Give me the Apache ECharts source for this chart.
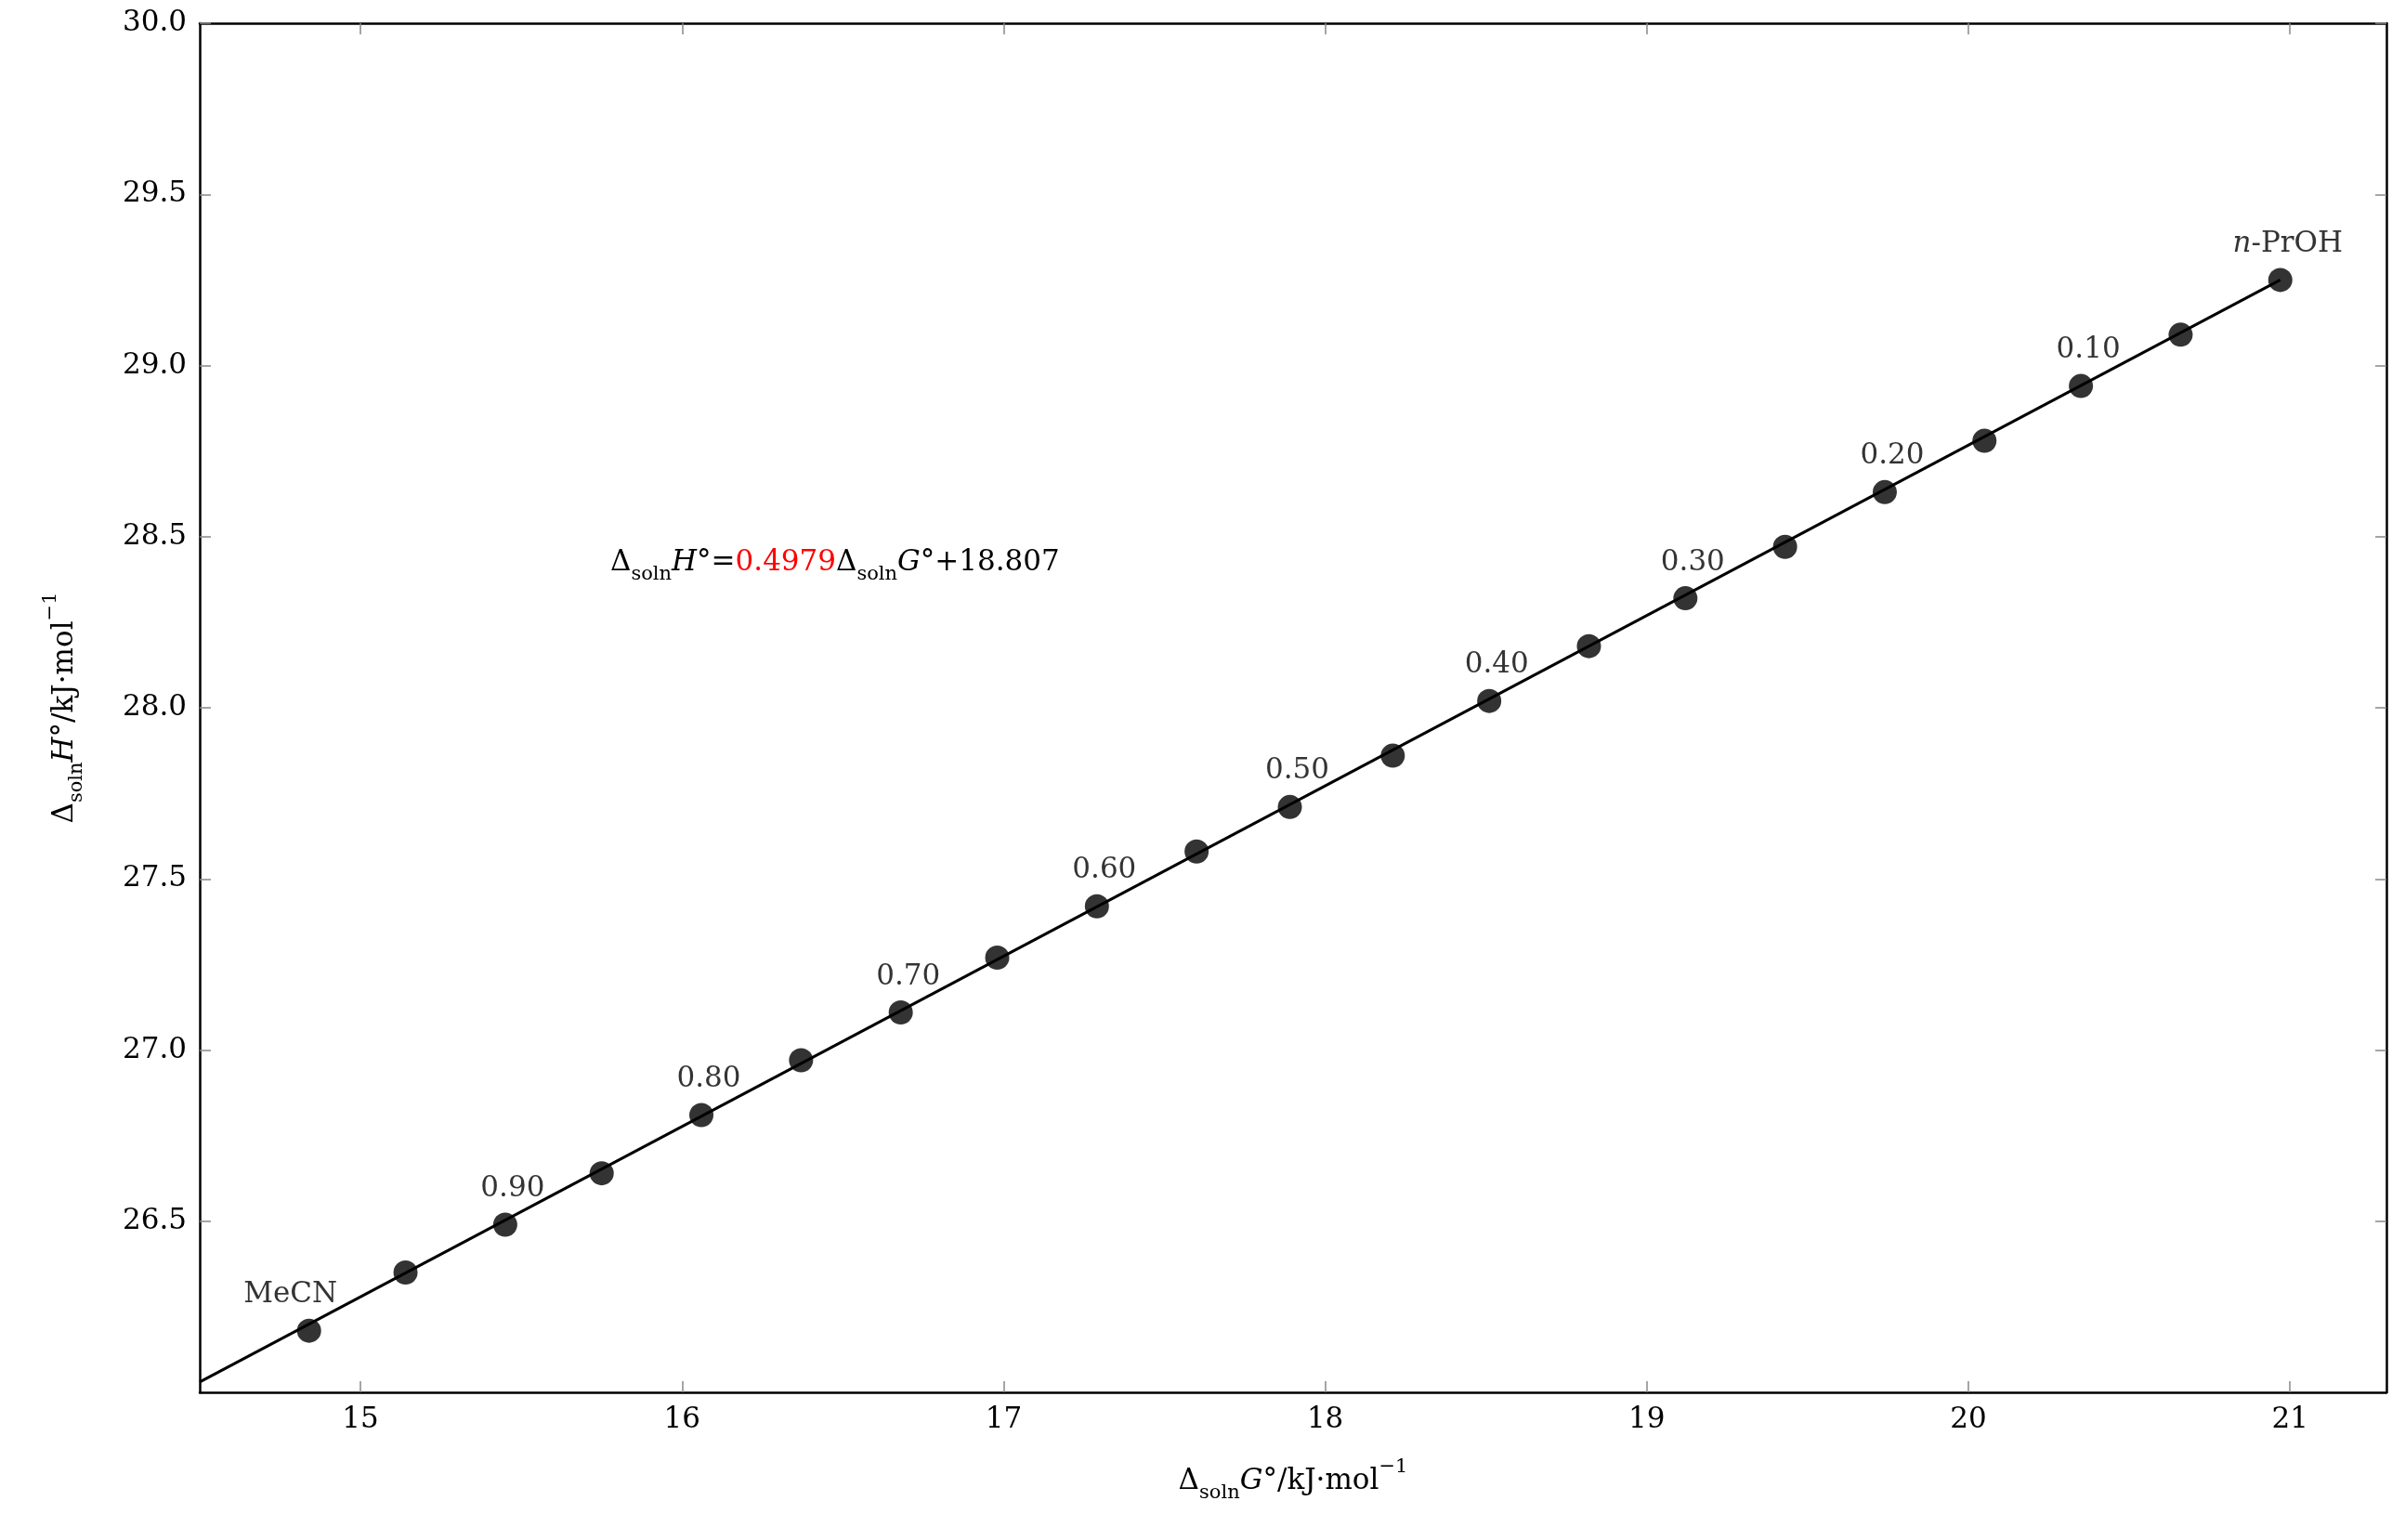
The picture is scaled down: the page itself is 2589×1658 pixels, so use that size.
<!DOCTYPE html>
<html><head><meta charset="utf-8">
<script src="https://cdn.jsdelivr.net/npm/echarts@6/dist/echarts.min.js"></script>
<style>html,body{margin:0;padding:0;background:#fff}#c{width:2589px;height:1658px}</style>
</head><body><div id="c"></div>
<script>
const xVals=[14.84,15.14,15.45,15.75,16.06,16.37,16.68,16.98,17.29,17.60,17.89,18.21,18.51,18.82,19.12,19.43,19.74,20.05,20.35,20.66,20.97];
const yVals=[26.18,26.35,26.49,26.64,26.81,26.97,27.11,27.27,27.42,27.58,27.71,27.86,28.02,28.18,28.32,28.47,28.63,28.78,28.94,29.09,29.25];
const pointLabels=['MeCN','','0.90','','0.80','','0.70','','0.60','','0.50','','0.40','','0.30','','0.20','','0.10','','n-PrOH'];
const fitX=[14.5,20.97], fitY=[26.03,29.25];
const xTicks=[15,16,17,18,19,20,21];
const yTicks=[26.5,27.0,27.5,28.0,28.5,29.0,29.5,30.0];
const F='"DejaVu Serif","Liberation Serif",serif';
const fs=31;
const base={color:'#000',fontFamily:F,fontSize:fs};
const sub={color:'#000',fontFamily:F,fontSize:21,verticalAlign:'bottom',padding:[0,0,-8,0]};
const sup={color:'#000',fontFamily:F,fontSize:21,verticalAlign:'top',padding:[-10,0,0,0]};
const it={color:'#000',fontFamily:F,fontSize:fs,fontStyle:'italic'};
function ax(type,pos,show,extra){return Object.assign({type:'value',position:pos,min:type==='x'?14.5:26,max:type==='x'?21.3:30,
 axisLine:{show:true,onZero:false,lineStyle:{color:'#000',width:2.5}},
 axisTick:{show:true,inside:true,length:12,customValues:type==='x'?xTicks:yTicks,lineStyle:{color:'#888',width:1.5}},
 axisLabel:{show:show,customValues:type==='x'?xTicks:yTicks,color:'#000',fontFamily:F,fontSize:fs,margin:14,
   formatter:v=>type==='x'?String(v):v.toFixed(1)},
 splitLine:{show:false}},extra||{});}
const chart=echarts.init(document.getElementById('c'));
chart.setOption({
 animation:false,
 grid:{left:215,right:20,top:25,bottom:159},
 xAxis:[ax('x','bottom',true,{name:'Δ{s|soln}{i|G}°/kJ·mol{p|−1}',nameLocation:'middle',nameGap:80,
   nameTextStyle:Object.assign({},base,{rich:{s:sub,i:it,p:sup}})}),ax('x','top',false)],
 yAxis:[ax('y','left',true,{name:'Δ{s|soln}{i|H}°/kJ·mol{p|−1}',nameLocation:'middle',nameGap:130,
   nameTextStyle:Object.assign({},base,{rich:{s:sub,i:it,p:sup}})}),ax('y','right',false)],
 series:[
  {type:'line',data:fitX.map((x,i)=>[x,fitY[i]]),symbol:'none',lineStyle:{color:'#000',width:3},z:2},
  {type:'scatter',data:xVals.map((x,i)=>({value:[x,yVals[i]],label:{show:!!pointLabels[i],
     offset:i===0?[-20,0]:[8,0],
     formatter:pointLabels[i]==='n-PrOH'?'{i|n}-PrOH':pointLabels[i]}})),
   symbolSize:26,itemStyle:{color:'#000'},z:3,
   label:{position:'top',distance:10,color:'#000',fontFamily:F,fontSize:fs,rich:{i:it}}}
 ],
 graphic:[{type:'text',left:657,top:590,style:{
   text:'Δ{s|soln}{i|H}°={r|0.4979}Δ{s|soln}{i|G}°+18.807',fill:'#000',font:fs+'px '+F,
   rich:{s:sub,i:it,r:{fill:'#ff0000',fontFamily:F,fontSize:fs}}}}]
});
</script></body></html>
